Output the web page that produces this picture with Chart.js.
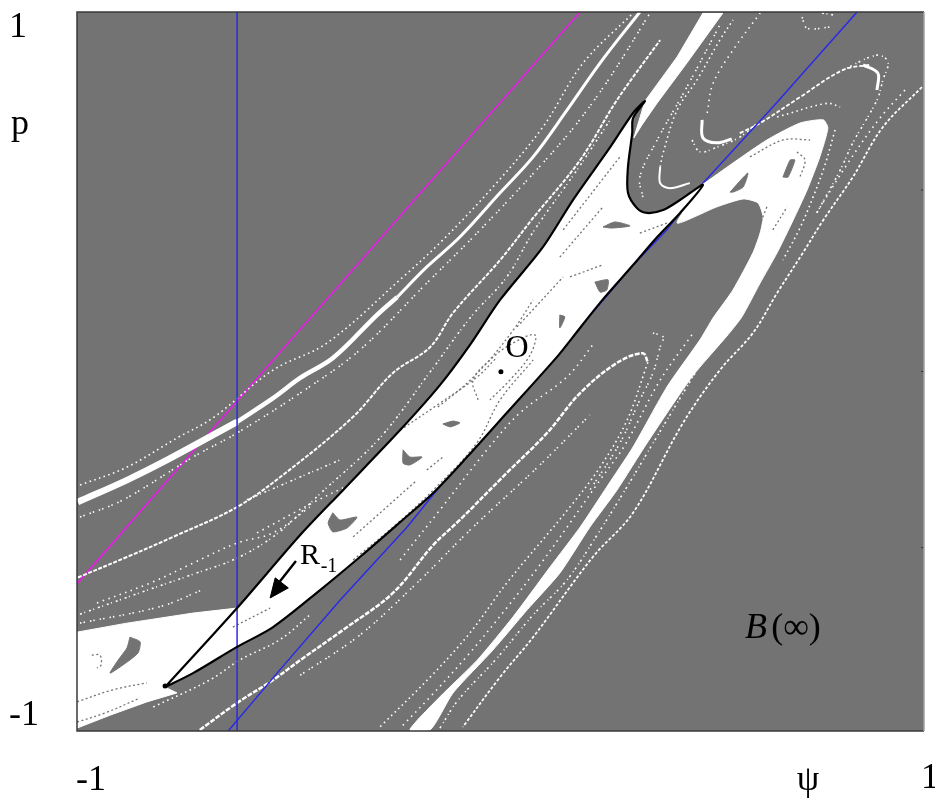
<!DOCTYPE html>
<html>
<head>
<meta charset="utf-8">
<title>B(∞)</title>
<script src="https://cdn.jsdelivr.net/npm/chart.js@4"></script>
<style>
body { margin: 0; background: #fff; }
canvas { display: block; }
</style>
</head>
<body>
<canvas id="basinChart" width="935" height="801"></canvas>
<script>
// all curves are [psi, p]
const lensEdge = [[-.792,-.878],[-.622,-.658],[-.473,-.455],[-.372,-.330],[-.237,-.163],[-.143,-.038],[-.072,.074],[-.001,.199],[.100,.346],[.171,.477],[.259,.624],[.313,.719],[.341,.752],[.313,.705],[.311,.663],[.301,.569],[.301,.497],[.322,.455],[.346,.441],[.384,.449],[.424,.477],[.478,.519],[.424,.441],[.370,.374],[.313,.296],[.235,.191],[.169,.093],[.133,.040],[.015,-.115],[-.079,-.238],[-.159,-.338],[-.237,-.419],[-.332,-.516],[-.426,-.608],[-.537,-.711],[-.622,-.766],[-.726,-.839],[-.792,-.878]];
const wedge = [[-1,-.725],[-.882,-.700],[-.726,-.672],[-.622,-.658],[-.792,-.878],[-.764,-.894],[-.835,-.919],[-.922,-.956],[-1,-.992],[-1,-.725]];
const tongue = [[.476,.519],[.549,.580],[.629,.644],[.707,.691],[.762,.700],[.773,.677],[.754,.597],[.724,.505],[.691,.421],[.653,.330],[.613,.246],[.570,.152],[.537,.102],[.452,-.015],[.346,-.199],[.275,-.330],[.211,-.433],[.140,-.561],[.063,-.663],[-.018,-.775],[-.112,-.894],[-.166,-.997],[-.214,-.997],[-.143,-.905],[-.055,-.803],[.030,-.682],[.117,-.544],[.188,-.433],[.251,-.321],[.313,-.210],[.393,-.043],[.471,.088],[.502,.149],[.549,.227],[.596,.330],[.613,.385],[.620,.430],[.608,.469],[.573,.480],[.511,.458],[.417,.413],[.476,.519]];
const topBand = [[.341,.752],[.417,.875],[.478,.997],[.525,.997],[.440,.858],[.370,.747],[.334,.686],[.315,.650],[.341,.752]];

const holes = [
	[[-.875,-.739],[-.851,-.752],[-.856,-.783],[-.891,-.816],[-.922,-.839],[-.903,-.803],[-.882,-.769],[-.875,-.739]],
	[[-.396,-.393],[-.379,-.413],[-.339,-.405],[-.362,-.435],[-.396,-.446],[-.407,-.421],[-.396,-.393]],
	[[-.230,-.218],[-.214,-.238],[-.185,-.238],[-.214,-.260],[-.230,-.255],[-.230,-.218]],
	[[-.136,-.146],[-.112,-.138],[-.096,-.143],[-.119,-.154],[-.136,-.146]],
	[[.140,.157],[.152,.152],[.140,.121],[.140,.157]],
	[[.223,.249],[.254,.255],[.251,.227],[.235,.221],[.223,.249]],
	[[.242,.402],[.270,.416],[.306,.405],[.263,.399],[.242,.402]],
	[[.542,.499],[.584,.552],[.573,.513],[.549,.499],[.542,.499]],
	[[.667,.541],[.684,.588],[.695,.588],[.679,.541],[.667,.541]]
];
const grayStreaks = [
	[[-1,-.919],[-.917,-.886],[-.835,-.866]],
	[[-1,-.975],[-.934,-.950],[-.851,-.908]],
	[[-.965,-.789],[-.946,-.789],[-.943,-.816],[-.953,-.825]],
	[[-.632,-.711],[-.544,-.658]],
	[[-.348,-.524],[-.254,-.433],[-.159,-.330],[-.056,-.199],[-.001,-.079],[.077,.032]],
	[[-.348,-.460],[-.197,-.302]],
	[[-.174,-.274],[-.136,-.238]],
	[[-.237,-.163],[-.143,-.088],[-.055,-.015],[-.008,.040]],
	[[-.148,-.099],[-.089,-.043],[-.032,.024],[.030,.115],[.077,.199]],
	[[-.053,-.079],[-.065,-.024],[-.025,.032],[.022,.074],[.081,.102],[.070,.046],[.022,-.024],[-.025,-.079]],
	[[.039,.124],[.148,.263]],
	[[.140,.318],[.242,.458]],
	[[.148,.394],[.282,.597]],
	[[.329,.385],[.393,.413]],
	[[.164,.263],[.240,.296]],
	[[.589,.597],[.667,.644],[.731,.644]],
	[[.700,.611],[.719,.588],[.707,.541]],
	[[.643,.394],[.677,.458]],
	[[.629,.458],[.589,.338]]
];

const stripeWide = [[-.998,-.363],[-.882,-.302],[-.787,-.246],[-.622,-.140]];
const stripeMid = [[-.622,-.140],[-.537,-.074],[-.473,-.018],[-.395,.038],[-.292,.157],[-.244,.207]];
const stripeThin = [[-.244,.207],[-.174,.291],[-.096,.374],[-.001,.497],[.077,.597],[.157,.727],[.235,.858],[.329,1]];
const loopStripe = [[-.710,-.997],[-.622,-.922],[-.537,-.858],[-.473,-.803],[-.372,-.719],[-.254,-.616],[-.159,-.483],[-.096,-.413],[.015,-.282],[.110,-.171],[.188,-.060],[.275,.024],[.336,.051],[.348,.026]];
const outerStripe = [[.995,.791],[.903,.680],[.832,.541],[.762,.421],[.714,.330],[.653,.218],[.596,.107],[.518,.004],[.431,-.143],[.313,-.393],[.218,-.516],[.077,-.739],[-.001,-.850],[-.089,-.989]];
const hookStripe = [[.565,.663],[.613,.691],[.707,.763],[.809,.839],[.872,.853]];
const hookEnd = [[.856,.853],[.891,.830],[.889,.783]];
const uInner = [[.377,.569],[.377,.524],[.400,.510],[.447,.524]];
const uOuter = [[.476,.700],[.478,.650],[.511,.636],[.546,.647]];
const midStripe = [[-.998,-.573],[-.882,-.516],[-.773,-.460],[-.622,-.377],[-.504,-.279],[-.348,-.126],[-.254,-.004],[-.166,.068],[-.112,.163],[-.001,.310],[.077,.427],[.188,.588],[.275,.755],[.377,.922]];

const dotted = [
	[[-.993,-.316],[-.882,-.266],[-.764,-.185],[-.679,-.129],[-.537,.004],[-.410,.079],[-.230,.263],[-.136,.366],[-.018,.513],[.100,.680],[.195,.858],[.313,.997]],
	[[-.993,-.405],[-.891,-.357],[-.726,-.238],[-.622,-.171],[-.473,-.060],[-.332,.060],[-.174,.246],[-.048,.394],[.100,.580],[.181,.691],[.259,.819],[.353,.997]],
	[[-.993,-.675],[-.843,-.612],[-.726,-.564],[-.622,-.519],[-.528,-.452],[-.426,-.340],[-.285,-.185],[-.166,-.001],[-.072,.149],[.015,.263],[.077,.388],[.181,.561],[.259,.700]],
	[[-.953,-.644],[-.820,-.585],[-.726,-.533],[-.622,-.477],[-.537,-.449],[-.450,-.377]],
	[[.348,.026],[.299,-.135],[.235,-.266],[.164,-.377],[.015,-.588],[-.072,-.727],[-.166,-.850],[-.285,-.989]],
	[[.360,.107],[.384,.096],[.377,.068],[.360,-.004],[.329,-.079],[.282,-.199],[.211,-.330]],
	[[.747,.441],[.802,.560],[.832,.636],[.889,.755],[.903,.811],[.915,.861],[.889,.880],[.809,.839]],
	[[.955,.783],[.896,.705],[.825,.588],[.743,.435]],
	[[.377,.569],[.384,.608],[.417,.727],[.464,.811],[.518,.922],[.549,.978]],
	[[.336,.485],[.329,.541],[.370,.644],[.440,.791],[.518,.964]],
	[[.452,.644],[.471,.611],[.511,.624],[.565,.652],[.606,.691]],
	[[.488,.719],[.502,.802],[.549,.894],[.613,.997]],
	[[.653,.708],[.771,.746],[.802,.736]],
	[[.712,.986],[.724,.955],[.778,.958]],
	[[.759,.997],[.785,.992]],
	[[-.237,-.524],[-.143,-.385],[-.032,-.218],[.046,-.115],[.157,-.015],[.223,.082]],
	[[-.820,-.933],[-.686,-.858],[-.615,-.802],[-.521,-.746],[-.450,-.677]],
	[[-.473,-.845],[-.332,-.733],[-.190,-.580],[-.072,-.441],[.093,-.260],[.211,-.121]],
	[[.471,.018],[.365,-.190],[.294,-.330],[.228,-.455],[.157,-.580],[.077,-.677],[-.008,-.797],[-.100,-.914],[-.143,-.992]],
	[[.452,.102],[.377,-.024],[.294,-.204],[.235,-.302],[.169,-.413],[.093,-.538],[.011,-.663],[-.077,-.789],[-.166,-.905],[-.237,-.992]],
	[[.790,.672],[.766,.574],[.738,.485],[.707,.399],[.667,.310]],
	[[-.993,-.700],[-.804,-.654],[-.703,-.607]],
	[[-.599,-.357],[-.490,-.302],[-.379,-.246]],
	[[-.575,-.449],[-.443,-.365],[-.348,-.310]]
];
const dashes = [[1.6, 3.4], [1.5, 2, 1.5, 5], [2, 2.5, 1, 4], [1.5, 4.5]];

const blueDiagonal = [[-.643,-1],[-.521,-.830],[-.379,-.636],[-.221,-.433],[-.089,-.241],[-.001,-.135],[.112,.018],[.313,.296],[.393,.394],[.478,.524],[.643,.736],[.842,1]];
const blueVertical = [[-.622,-1],[-.622,1]];
const magentaLine = [[-.998,-.588],[-.622,-.082],[.188,1]];
const arrowShaft = [[-.483,-.527],[-.535,-.605]];
const arrowHead = [[-.544,-.630],[-.532,-.574],[-.501,-.602],[-.544,-.630]];
const blackDots = [[.001,-.001],[-.792,-.875]];
const rightTicks = [[1,.505],[1,0],[1,-.49]];

const labels = [
	{ text: "1", x: 18, y: 37, font: "36px" },
	{ text: "p", x: 20, y: 134, font: "36px" },
	{ text: "-1", x: 24, y: 725, font: "36px" },
	{ text: "-1", x: 91, y: 790, font: "36px" },
	{ text: "ψ", x: 808, y: 790, font: "36px" },
	{ text: "1", x: 930, y: 788, font: "36px" },
	{ text: "O", x: 517, y: 357, font: "32px" },
	{ text: "R", x: 310, y: 564, font: "30px" },
	{ text: "-1", x: 329, y: 572, font: "20px" },
	{ text: "B", x: 756, y: 638, font: "italic 36px" },
	{ text: "(∞)", x: 796, y: 638, font: "36px" }
];

function curve(points, color, width, dash, bend) {
	return {
		data: points.map(function (p) { return { x: p[0], y: p[1] }; }),
		showLine: true,
		fill: false,
		borderColor: color,
		borderWidth: width,
		borderDash: dash || [],
		pointRadius: 0,
		tension: bend === undefined ? 0.35 : bend
	};
}

function shape(points, color, bend) {
	var ds = curve(points, color, 1, [], bend === undefined ? 0 : bend);
	ds.fill = "shape";
	ds.backgroundColor = color;
	return ds;
}

const GRAY = "#737373";
const WHITE = "#ffffff";
const BLUE = "#2a2ae8";

// bottom layer first, reversed below because chart.js paints dataset 0 last
var layers = [];
layers.push(curve(magentaLine, "#e81ce8", 1.6, [], 0));
dotted.forEach(function (d, i) { layers.push(curve(d, WHITE, 1.6, dashes[i % dashes.length])); });
layers.push(curve(stripeWide, WHITE, 6.5));
layers.push(curve(stripeMid, WHITE, 4.5));
layers.push(curve(stripeThin, WHITE, 3));
layers.push(curve(midStripe, WHITE, 2, [4, 1.5]));
layers.push(curve(loopStripe, WHITE, 2.5, [5, 1.5]));
layers.push(curve(outerStripe, WHITE, 1.8, [3, 2]));
layers.push(curve(hookStripe, WHITE, 1.8, [4, 2]));
layers.push(curve(hookEnd, WHITE, 3));
layers.push(curve(uInner, WHITE, 2));
layers.push(curve(uOuter, WHITE, 3));
layers.push(curve(blueDiagonal, BLUE, 1.5, [], 0));
layers.push(shape(topBand, WHITE));
layers.push(shape(wedge, WHITE));
layers.push(shape(tongue, WHITE, 0.2));
layers.push(shape(lensEdge, WHITE, 0.3));
holes.forEach(function (h) { layers.push(shape(h, GRAY, 0.2)); });
grayStreaks.forEach(function (s) { layers.push(curve(s, GRAY, 1.3, [2, 2.5])); });
layers.push(curve(blueVertical, BLUE, 1.5, [], 0));
layers.push(curve(lensEdge, "#000000", 2.2, [], 0.3));
layers.push(curve(arrowShaft, "#000000", 2.4, [], 0));
layers.push(shape(arrowHead, "#000000"));
var dots = curve(blackDots, "#000000", 0);
dots.showLine = false;
dots.pointRadius = 2.5;
dots.pointBackgroundColor = "#000000";
dots.pointBorderWidth = 0;
layers.push(dots);
var ticks = curve(rightTicks, "#333333", 0);
ticks.showLine = false;
ticks.pointStyle = "line";
ticks.pointRadius = 3;
ticks.pointBorderColor = "#333333";
ticks.pointBorderWidth = 1;
layers.push(ticks);

const frame = {
	id: "frame",
	beforeDatasetsDraw: function (chart) {
		var c = chart.ctx, a = chart.chartArea;
		c.save();
		c.fillStyle = GRAY;
		c.fillRect(a.left, a.top, a.width, a.height);
		c.restore();
	},
	afterDraw: function (chart) {
		var c = chart.ctx, a = chart.chartArea;
		c.save();
		c.strokeStyle = "#3a3a3a";
		c.lineWidth = 1.5;
		c.beginPath();
		c.moveTo(a.right, a.top);
		c.lineTo(a.left, a.top);
		c.lineTo(a.left, a.bottom);
		c.lineTo(a.right, a.bottom);
		c.stroke();
		c.strokeStyle = "#a0a0a0";
		c.beginPath();
		c.moveTo(a.right, a.top);
		c.lineTo(a.right, a.bottom);
		c.stroke();
		c.fillStyle = "#000";
		c.textAlign = "center";
		labels.forEach(function (l) {
			c.font = l.font + ' "Liberation Serif", serif';
			c.fillText(l.text, l.x, l.y);
		});
		c.restore();
	}
};

var ctx = document.getElementById("basinChart").getContext("2d");
var basinChart = new Chart(ctx, {
	type: "scatter",
	data: { datasets: layers.reverse() },
	options: {
		responsive: false,
		animation: false,
		layout: { padding: { left: 77, top: 12, right: 11, bottom: 70 } },
		plugins: { legend: { display: false }, tooltip: { enabled: false } },
		scales: {
			x: { type: "linear", min: -1, max: 1, display: false },
			y: { type: "linear", min: -1, max: 1, display: false }
		}
	},
	plugins: [frame]
});
</script>
</body>
</html>
